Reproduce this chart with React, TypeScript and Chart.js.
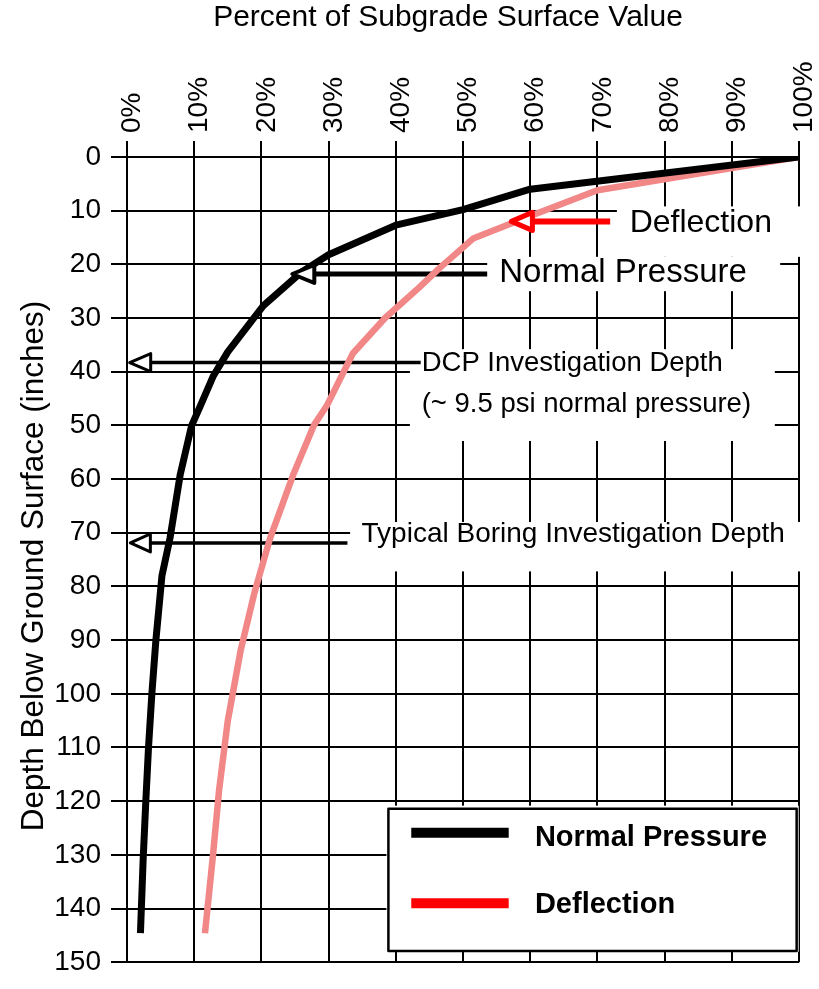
import React, { useEffect, useRef } from 'react';
import { Chart, registerables } from 'chart.js';

Chart.register(...registerables);

// ---------- data ----------
const percentTicks = [0, 10, 20, 30, 40, 50, 60, 70, 80, 90, 100];
const depthTicks = [0, 10, 20, 30, 40, 50, 60, 70, 80, 90, 100, 110, 120, 130, 140, 150];

const normalPressurePct = [100, 60, 50, 40, 30, 26, 20.3, 15, 12.8, 10.9, 9.6, 7.9, 6.4, 5.2, 4.3, 3.7, 3.2, 2.8, 2.4, 2.0];
const normalPressureDepth = [0, 6, 9.8, 12.7, 18.2, 21.4, 27.7, 36.3, 40.9, 46.4, 50.1, 59.3, 71, 78, 90, 100, 110, 120, 131, 144.6];

const deflectionPct = [100, 70, 60, 51.5, 46.5, 43.5, 38.4, 33.6, 29.7, 27.8, 24.7, 21.3, 19, 16.9, 15, 13.7, 12.8, 11.6];
const deflectionDepth = [0, 6.2, 11, 15.2, 20.7, 24.3, 30, 36.6, 46.4, 50, 59.3, 71, 81, 92, 105, 118, 130, 144.6];

const seriesLabels = ['Normal Pressure', 'Deflection'];
const xTitle = 'Percent of Subgrade Surface Value';
const yTitle = 'Depth Below Ground Surface (inches)';

const annotationTexts = [
  ['Deflection'],
  ['Normal Pressure'],
  ['DCP Investigation Depth', '(~ 9.5 psi normal pressure)'],
  ['Typical Boring Investigation Depth'],
];

// ---------- styles / layout ----------
const FONT = '"Liberation Sans", Arial, Helvetica, sans-serif';

const ANNOTATIONS = [
  { lines: annotationTexts[0], color: '#ff0000', tip: [57.2, 12.0], shaftEnd: 71.9, headLen: 21, headHalf: 9, headWidth: 5, shaftWidth: 6, text: [74.8, 14.0], fontSize: 32, lineGap: 0, box: [72.9, 101.5, 9.2, 18.6] },
  { lines: annotationTexts[1], color: '#000000', tip: [24.6, 21.8], shaftEnd: 53.6, headLen: 22, headHalf: 9, headWidth: 4, shaftWidth: 5, text: [55.4, 23.2], fontSize: 33, lineGap: 0, box: [53.6, 97.2, 18.6, 25.0] },
  { lines: annotationTexts[2], color: '#000000', tip: [0.4, 38.3], shaftEnd: 43.7, headLen: 21, headHalf: 9, headWidth: 3, shaftWidth: 3.5, text: [43.85, 39.8], fontSize: 27.5, lineGap: 41.7, box: [42.1, 96.4, 35.8, 52.9] },
  { lines: annotationTexts[3], color: '#000000', tip: [0.5, 71.9], shaftEnd: 32.8, headLen: 20, headHalf: 9, headWidth: 3, shaftWidth: 3.5, text: [34.9, 71.7], fontSize: 28, lineGap: 0, box: [33.2, 101.5, 68.0, 77.2] },
];

const LEGEND = {
  box: [38.9, 99.65, 121.4, 147.9],
  lineX: [42.3, 56.8],
  rowsDepth: [125.9, 139.0],
  textX: 60.7,
  textBaseline: [128.3, 140.8],
  colors: ['#000000', '#ff0000'],
};

const overlayPlugin = {
  id: 'overlay',
  beforeDatasetsDraw(chart: any) {
    const { ctx } = chart;
    const xs = chart.scales.x;
    const ys = chart.scales.y;
    ctx.save();
    ctx.fillStyle = '#ffffff';
    for (const a of ANNOTATIONS) {
      const [x0, x1, y0, y1] = a.box;
      const px0 = xs.getPixelForValue(x0);
      const px1 = xs.getPixelForValue(x1);
      const py0 = ys.getPixelForValue(y0);
      const py1 = ys.getPixelForValue(y1);
      ctx.fillRect(px0, py0, px1 - px0, py1 - py0);
    }
    {
      const [x0, x1, y0, y1] = LEGEND.box;
      const px0 = xs.getPixelForValue(x0);
      const px1 = xs.getPixelForValue(x1);
      const py0 = ys.getPixelForValue(y0);
      const py1 = ys.getPixelForValue(y1);
      ctx.fillRect(px0 - 2, py0 - 3, px1 - px0 + 4, py1 - py0 + 4);
    }
    for (const a of ANNOTATIONS) {
      if (a.color !== '#000000') continue;
      const tx = xs.getPixelForValue(a.tip[0]);
      const ty = ys.getPixelForValue(a.tip[1]);
      const ex = xs.getPixelForValue(a.shaftEnd);
      ctx.strokeStyle = a.color;
      ctx.lineWidth = a.shaftWidth;
      ctx.beginPath();
      ctx.moveTo(tx + a.headLen, ty);
      ctx.lineTo(ex, ty);
      ctx.stroke();
    }
    ctx.restore();
  },
  afterDatasetsDraw(chart: any) {
    const { ctx } = chart;
    const xs = chart.scales.x;
    const ys = chart.scales.y;
    ctx.save();
    for (const a of ANNOTATIONS) {
      const tx = xs.getPixelForValue(a.tip[0]);
      const ty = ys.getPixelForValue(a.tip[1]);
      if (a.color !== '#000000') {
        const ex = xs.getPixelForValue(a.shaftEnd);
        ctx.strokeStyle = a.color;
        ctx.lineWidth = a.shaftWidth;
        ctx.beginPath();
        ctx.moveTo(tx + a.headLen, ty);
        ctx.lineTo(ex, ty);
        ctx.stroke();
      }
      ctx.beginPath();
      ctx.moveTo(tx, ty);
      ctx.lineTo(tx + a.headLen, ty - a.headHalf);
      ctx.lineTo(tx + a.headLen, ty + a.headHalf);
      ctx.closePath();
      ctx.fillStyle = '#ffffff';
      ctx.fill();
      ctx.lineJoin = 'round';
      ctx.lineWidth = a.headWidth;
      ctx.strokeStyle = a.color;
      ctx.stroke();
      ctx.fillStyle = '#000000';
      ctx.font = `${a.fontSize}px ${FONT}`;
      ctx.textAlign = 'left';
      ctx.textBaseline = 'alphabetic';
      const lx = xs.getPixelForValue(a.text[0]);
      const ly = ys.getPixelForValue(a.text[1]);
      a.lines.forEach((line: string, i: number) => {
        ctx.fillText(line, lx, ly + i * a.lineGap);
      });
    }

    const [x0, x1, y0, y1] = LEGEND.box;
    const px0 = xs.getPixelForValue(x0);
    const px1 = xs.getPixelForValue(x1);
    const py0 = ys.getPixelForValue(y0);
    const py1 = ys.getPixelForValue(y1);
    ctx.strokeStyle = '#000000';
    ctx.lineWidth = 2.5;
    ctx.strokeRect(px0, py0, px1 - px0, py1 - py0);
    chart.data.datasets.forEach((ds: any, i: number) => {
      const ly = ys.getPixelForValue(LEGEND.rowsDepth[i]);
      ctx.strokeStyle = LEGEND.colors[i];
      ctx.lineWidth = 10;
      ctx.lineCap = 'butt';
      ctx.beginPath();
      ctx.moveTo(xs.getPixelForValue(LEGEND.lineX[0]), ly);
      ctx.lineTo(xs.getPixelForValue(LEGEND.lineX[1]), ly);
      ctx.stroke();
      ctx.fillStyle = '#000000';
      ctx.font = `bold 29px ${FONT}`;
      ctx.textAlign = 'left';
      ctx.textBaseline = 'alphabetic';
      ctx.fillText(ds.label, xs.getPixelForValue(LEGEND.textX), ys.getPixelForValue(LEGEND.textBaseline[i]));
    });
    ctx.restore();
  },
  afterDraw(chart: any) {
    const { ctx } = chart;
    ctx.save();
    ctx.fillStyle = '#000000';
    ctx.font = `30px ${FONT}`;
    ctx.textAlign = 'center';
    ctx.textBaseline = 'alphabetic';
    ctx.fillText(xTitle, 448, 26);
    ctx.translate(43, 566);
    ctx.rotate(-Math.PI / 2);
    ctx.font = `31.5px ${FONT}`;
    ctx.fillText(yTitle, 0, 0);
    ctx.restore();
  },
};

export default function App() {
  const canvasRef = useRef<HTMLCanvasElement | null>(null);

  useEffect(() => {
    const canvas = canvasRef.current;
    if (!canvas) return;
    const npData = normalPressurePct.map((v, i) => ({ x: v, y: normalPressureDepth[i] }));
    const dfData = deflectionPct.map((v, i) => ({ x: v, y: deflectionDepth[i] }));

    const chart = new Chart(canvas, {
      type: 'line',
      data: {
        datasets: [
          {
            label: seriesLabels[0],
            data: npData,
            borderColor: '#000000',
            borderWidth: 7,
            pointRadius: 0,
            tension: 0,
            fill: false,
            borderJoinStyle: 'round',
          },
          {
            label: seriesLabels[1],
            data: dfData,
            borderColor: '#f28787',
            borderWidth: 6.5,
            pointRadius: 0,
            tension: 0,
            fill: false,
            borderJoinStyle: 'round',
          },
        ],
      },
      options: {
        responsive: false,
        animation: false,
        devicePixelRatio: 1,
        layout: { padding: { left: 0, top: 0, right: 20, bottom: 16 } },
        plugins: {
          legend: { display: false },
          tooltip: { enabled: false },
          title: { display: false },
        },
        scales: {
          x: {
            type: 'linear',
            position: 'top',
            min: 0,
            max: 100,
            afterFit: (s: any) => { s.height = 157; },
            afterBuildTicks: (s: any) => { s.ticks = percentTicks.map((v) => ({ value: v })); },
            ticks: {
              autoSkip: false,
              minRotation: 90,
              maxRotation: 90,
              padding: 8,
              labelOffset: 39,
              color: '#000000',
              font: { family: FONT, size: 28 },
              callback: (v: any) => `${v}%`,
            },
            grid: { color: '#000000', lineWidth: 2, tickLength: 16, drawTicks: true },
            border: { display: true, color: '#000000', width: 2 },
          },
          y: {
            type: 'linear',
            reverse: true,
            min: 0,
            max: 150,
            afterFit: (s: any) => { s.width = 127; },
            afterBuildTicks: (s: any) => { s.ticks = depthTicks.map((v) => ({ value: v })); },
            ticks: {
              autoSkip: false,
              padding: 10,
              color: '#000000',
              font: { family: FONT, size: 28 },
            },
            grid: { color: '#000000', lineWidth: 2, tickLength: 16, drawTicks: true },
            border: { display: true, color: '#000000', width: 2 },
          },
        },
      },
      plugins: [overlayPlugin],
    });
    return () => chart.destroy();
  }, []);

  return (
    <div style={{ position: 'absolute', left: 0, top: 0, width: 819, height: 989, background: '#ffffff' }}>
      <canvas ref={canvasRef} width={819} height={989} style={{ display: 'block' }} />
    </div>
  );
}
